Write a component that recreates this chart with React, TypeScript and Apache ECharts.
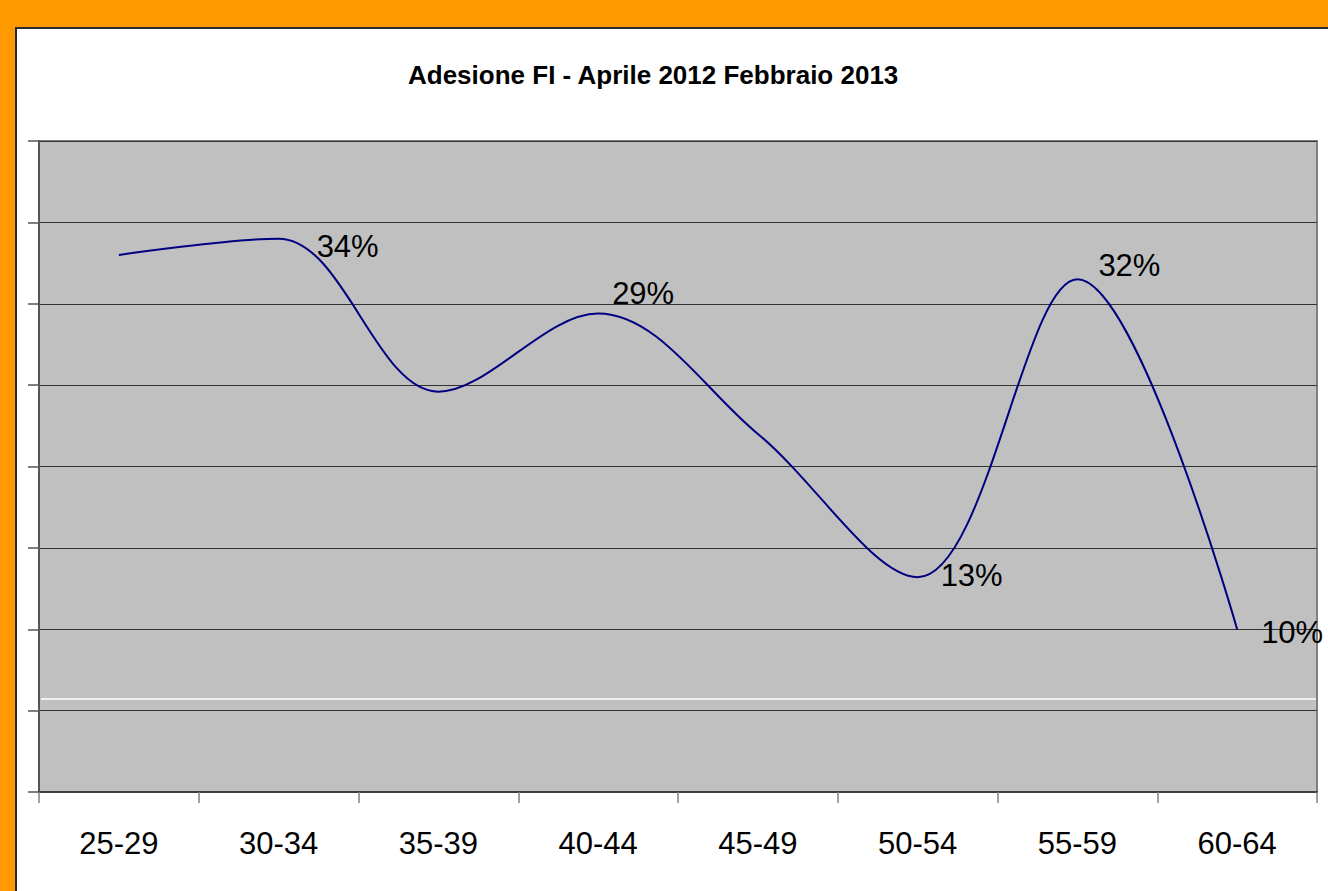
import React, { useEffect, useRef } from "react";
import * as echarts from "echarts";

const title = "Adesione FI - Aprile 2012 Febbraio 2013";
const categories = ["25-29", "30-34", "35-39", "40-44", "45-49", "50-54", "55-59", "60-64"];
const values = [33, 34, 24.6, 29.4, 22, 13.2, 31.5, 10];
// which points carry a data label, and the label nudge (dx, dy)
const labelShown = [false, true, false, true, false, true, true, true];
const labelOffsets: [number, number][] = [
  [0, 0], [33, 8], [0, 0], [9, -20], [0, 0], [18, -2], [16, -14], [19, 3],
];
const yMin = 0;
const yMax = 40;
const yInterval = 5;

const FONT = "'Liberation Sans', Arial, sans-serif";

export default function App() {
  const ref = useRef<HTMLDivElement>(null);
  useEffect(() => {
    document.body.style.margin = "0";
    if (!ref.current) return;
    const chart = echarts.init(ref.current, undefined, { renderer: "svg" });
    const data = values.map((v, i) => ({
      value: v,
      label: {
        show: labelShown[i],
        position: "right",
        offset: labelOffsets[i],
      },
    }));
    chart.setOption({
      animation: false,
      backgroundColor: "#FF9900",
      textStyle: { fontFamily: FONT },
      graphic: [
        {
          type: "rect",
          shape: { x: 16, y: 28, width: 1330, height: 880 },
          style: { fill: "#FFFFFF", stroke: "#2a2a2a", lineWidth: 2 },
          z: -10,
          silent: true,
        },
        {
          type: "line",
          shape: { x1: 41, y1: 699, x2: 1316, y2: 699 },
          style: { stroke: "#FFFFFF", lineWidth: 1.5 },
          z: 5,
          silent: true,
        },
      ],
      title: {
        text: title,
        left: 403,
        top: 57,
        textStyle: { fontFamily: FONT, fontSize: 26, fontWeight: "bold", color: "#000" },
      },
      grid: {
        left: 39,
        right: 11,
        top: 141,
        bottom: 99,
        show: true,
        backgroundColor: "#C0C0C0",
        borderColor: "#808080",
        borderWidth: 2,
      },
      xAxis: {
        type: "category",
        data: categories,
        boundaryGap: true,
        axisLine: { show: true, lineStyle: { color: "#404040", width: 2 } },
        axisTick: { show: true, length: 11, lineStyle: { color: "#808080", width: 1.5 } },
        axisLabel: { margin: 36, fontSize: 31, color: "#000", fontFamily: FONT },
      },
      yAxis: {
        type: "value",
        min: yMin,
        max: yMax,
        interval: yInterval,
        axisLine: { show: true, lineStyle: { color: "#555555", width: 2 } },
        axisTick: { show: true, length: 11, lineStyle: { color: "#555555", width: 1.5 } },
        axisLabel: { show: false },
        splitLine: { show: true, lineStyle: { color: "#333333", width: 1 } },
      },
      series: [
        {
          type: "line",
          data,
          smooth: 0.35,
          symbol: "circle",
          symbolSize: 0,
          showSymbol: true,
          itemStyle: { color: "#000080" },
          lineStyle: { color: "#000080", width: 2 },
          label: {
            fontSize: 31,
            color: "#000",
            fontFamily: FONT,
            formatter: (p: any) => Math.round(p.value) + "%",
          },
          z: 10,
        },
      ],
    });
    return () => chart.dispose();
  }, []);
  return <div ref={ref} style={{ width: 1328, height: 891 }} />;
}
